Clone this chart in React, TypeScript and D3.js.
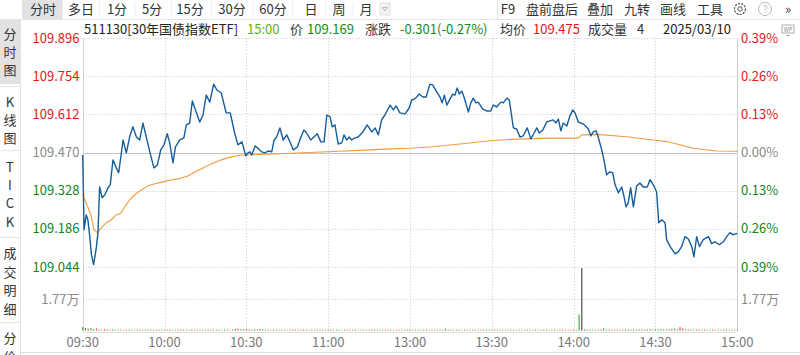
import React from "react";
import * as d3 from "d3";

const W = 800;
const H = 355;
const FONT = '"Noto Sans CJK SC", "Noto Sans", sans-serif';

// ---- data ----
const topTabs = ["分时", "多日", "1分", "5分", "15分", "30分", "60分", "日", "周", "月"];
const rightTabs = ["F9", "盘前盘后", "叠加", "九转", "画线", "工具"];
const sideGroups = [["分", "时", "图"], ["K", "线", "图"], ["T", "I", "C", "K"], ["成", "交", "明", "细"], ["分", "价"]];

const timeLabels = ["09:30", "10:00", "10:30", "11:00", "13:00", "13:30", "14:00", "14:30", "15:00"];
const timeTickMinutes = [0, 30, 60, 90, 120, 150, 180, 210, 240];
const priceTicks = [109.896, 109.754, 109.612, 109.47, 109.328, 109.186, 109.044];
const pctLabels = ["0.39%", "0.26%", "0.13%", "0.00%", "0.13%", "0.26%", "0.39%"];
const PRE_CLOSE = 109.47;
const VOLUME_TICK = 17700;
const volumeTickLabel = "1.77万";

// [minute since 09:30 (trading minutes), price]
const priceSeries: [number, number][] = [
  [0, 109.461], [0.5, 109.183], [1.3, 109.238], [1.9, 109.22], [2.6, 109.157], [3.2, 109.09], [4.0, 109.053], [5.0, 109.116], [5.6, 109.172], [6.2, 109.342],
  [7.1, 109.302], [8.1, 109.313], [9.3, 109.339], [10.1, 109.35], [11.1, 109.443], [12.3, 109.413], [13.2, 109.395], [14.8, 109.517], [16.0, 109.469], [17.2, 109.528],
  [18.4, 109.566], [19.7, 109.528], [20.9, 109.517], [22.1, 109.58], [23.3, 109.528], [24.6, 109.473], [26.1, 109.413], [27.4, 109.424], [28.6, 109.48], [29.8, 109.499],
  [31.0, 109.54], [31.9, 109.506], [33.1, 109.432], [34.0, 109.491], [35.6, 109.517], [37.1, 109.525], [38.0, 109.573], [39.2, 109.58], [40.2, 109.662], [41.6, 109.621],
  [42.9, 109.584], [44.1, 109.61], [45.3, 109.684], [46.6, 109.658], [48.0, 109.725], [49.2, 109.703], [50.8, 109.692], [52.6, 109.618], [54.1, 109.618], [55.7, 109.543],
  [56.9, 109.499], [58.4, 109.51], [59.8, 109.458], [60.6, 109.469], [61.3, 109.473], [62.0, 109.461], [63.2, 109.495], [64.4, 109.484], [65.6, 109.473], [66.8, 109.469],
  [68.0, 109.476], [69.3, 109.473], [70.2, 109.517], [71.1, 109.528], [72.3, 109.562], [73.5, 109.517], [74.8, 109.536], [76.0, 109.51], [77.2, 109.48], [78.7, 109.491],
  [79.9, 109.525], [81.1, 109.554], [82.1, 109.543], [83.6, 109.517], [84.8, 109.528], [86.0, 109.54], [87.3, 109.51], [88.5, 109.51], [89.5, 109.61], [90.7, 109.603],
  [91.5, 109.566], [92.5, 109.573], [93.1, 109.536], [93.7, 109.502], [95.0, 109.506], [95.8, 109.536], [96.8, 109.517], [97.7, 109.528], [98.6, 109.517], [99.8, 109.525],
  [101.0, 109.528], [102.7, 109.547], [104.3, 109.573], [106.0, 109.547], [107.2, 109.562], [108.4, 109.536], [109.6, 109.592], [110.8, 109.61], [112.7, 109.647], [113.9, 109.629],
  [114.9, 109.644], [116.3, 109.618], [118.2, 109.614], [119.7, 109.636], [120.6, 109.666], [121.8, 109.67], [123.4, 109.688], [124.7, 109.677], [125.9, 109.677], [127.3, 109.725],
  [128.3, 109.722], [129.8, 109.696], [131.0, 109.677], [131.8, 109.655], [132.6, 109.684], [133.5, 109.647], [134.7, 109.67], [135.7, 109.688], [136.5, 109.684], [137.3, 109.711],
  [138.1, 109.688], [139.0, 109.699], [139.8, 109.677], [141.4, 109.621], [142.3, 109.655], [143.2, 109.673], [144.2, 109.655], [145.0, 109.658], [146.7, 109.632], [148.1, 109.625],
  [149.6, 109.625], [150.5, 109.647], [151.8, 109.64], [153.0, 109.655], [153.6, 109.658], [154.2, 109.655], [155.5, 109.673], [156.4, 109.666], [157.9, 109.562], [159.1, 109.558],
  [160.3, 109.528], [161.5, 109.532], [163.0, 109.562], [164.3, 109.521], [165.5, 109.543], [166.5, 109.562], [167.4, 109.543], [168.7, 109.554], [170.1, 109.584], [171.3, 109.588],
  [172.5, 109.592], [173.5, 109.58], [174.4, 109.595], [175.3, 109.551], [176.2, 109.58], [177.5, 109.569], [178.6, 109.606], [179.7, 109.629], [180.5, 109.618], [181.7, 109.584],
  [183.5, 109.577], [185.4, 109.558], [186.3, 109.532], [187.2, 109.547], [188.2, 109.551], [189.0, 109.528], [190.3, 109.48], [191.1, 109.443], [192.1, 109.387], [193.1, 109.398],
  [194.3, 109.395], [195.2, 109.35], [196.4, 109.32], [197.6, 109.342], [198.5, 109.305], [199.2, 109.268], [200.0, 109.283], [200.9, 109.339], [201.9, 109.268], [203.1, 109.346],
  [204.3, 109.357], [205.5, 109.342], [207.0, 109.342], [208.0, 109.369], [209.2, 109.35], [210.4, 109.324], [211.2, 109.209], [212.3, 109.22], [213.5, 109.209], [214.1, 109.146],
  [215.4, 109.12], [217.2, 109.093], [218.4, 109.101], [219.6, 109.12], [220.8, 109.157], [222.0, 109.149], [223.3, 109.12], [224.1, 109.082], [225.1, 109.157], [226.1, 109.12],
  [227.5, 109.146], [229.4, 109.157], [230.6, 109.131], [231.8, 109.138], [233.4, 109.127], [234.9, 109.138], [236.1, 109.157], [237.3, 109.172], [238.3, 109.164], [240, 109.169],
];

const avgSeries: [number, number][] = [
  [0, 109.313], [1.9, 109.268], [3.2, 109.231], [4.1, 109.183], [5.4, 109.172], [6.8, 109.19], [8.7, 109.209], [10.5, 109.22], [12.3, 109.238], [14.2, 109.246],
  [15.4, 109.268], [17.2, 109.294], [19.1, 109.313], [21.5, 109.331], [23.9, 109.346], [26.4, 109.354], [29.4, 109.361], [32.5, 109.369], [34.9, 109.372], [38.6, 109.383],
  [41.1, 109.398], [44.1, 109.413], [47.1, 109.428], [50.8, 109.443], [54.5, 109.454], [58.1, 109.461], [60.6, 109.461], [69.8, 109.465], [91.8, 109.474], [105.3, 109.48],
  [112.7, 109.484], [120, 109.486], [128.4, 109.492], [140.9, 109.505], [150.4, 109.515], [159.2, 109.52], [171.3, 109.524], [181.6, 109.524], [183.0, 109.536], [188.5, 109.538],
  [199.4, 109.529], [209.2, 109.517], [214.1, 109.511], [219.0, 109.499], [223.9, 109.486], [232.4, 109.476], [240, 109.475],
];

// per-minute volume (lots), minutes 0..240
const volumes = [
  1900, 1500, 1100, 1400, 800, 1200, 600, 500, 700, 600,
  500, 700, 400, 500, 600, 400, 500, 650, 500, 400,
  600, 500, 450, 500, 650, 500, 400, 550, 600, 500,
  450, 500, 600, 500, 400, 550, 600, 500, 450, 500,
  600, 450, 500, 550, 400, 500, 600, 500, 450, 550,
  500, 450, 600, 500, 400, 700, 900, 1000, 800, 700,
  900, 600, 500, 700, 600, 900, 800, 500, 600, 450,
  500, 600, 450, 500, 550, 400, 500, 600, 500, 450,
  500, 600, 450, 500, 550, 400, 500, 600, 500, 450,
  550, 500, 450, 600, 500, 400, 550, 500, 450, 500,
  600, 450, 500, 550, 400, 500, 600, 500, 450, 550,
  500, 450, 600, 500, 400, 550, 500, 450, 500, 600,
  600, 500, 450, 550, 500, 400, 600, 500, 450, 500,
  550, 500, 450, 1000, 600, 500, 400, 550, 500, 450,
  500, 600, 450, 500, 550, 400, 500, 600, 500, 450,
  500, 600, 450, 500, 550, 400, 500, 600, 500, 450,
  550, 500, 450, 600, 500, 400, 550, 500, 450, 500,
  600, 450, 500, 550, 400, 500, 600, 500, 450, 550,
  600, 450, 9100, 62000, 700, 500, 600, 500, 450, 550,
  600, 1200, 500, 600, 550, 500, 450, 600, 500, 700,
  650, 500, 600, 550, 700, 600, 500, 650, 700, 600,
  650, 700, 800, 600, 700, 650, 900, 1100, 700, 1900,
  1200, 700, 600, 650, 500, 600, 550, 500, 600, 450,
  500, 600, 450, 500, 550, 500, 600, 500, 450, 500,
  500,
];
// u = up (red), d = down (green), k = large neutral
const volumeDirs =
  "ddudduddud" + "udduduudud" + "duudduudud" + "ududduudud" + "duududduud" +
  "udduuduudu" + "duuduuddud" + "uduudduudu" + "ududduudud" + "duududduud" +
  "udduduudud" + "duudduudud" + "ududduudud" + "duddduudud" + "udduduudud" +
  "duudduudud" + "ududduudud" + "duddduudud" + "uddkduddud" + "udduduudud" +
  "duddduudud" + "uddddduduu" + "ududduudud" + "duudduudud" + "d";

export default function App() {
  const x = d3.scaleLinear().domain([0, 240]).range([82.7, 737.3]);
  const y = d3.scaleLinear().domain([109.044, 109.896]).range([267, 38.2]);
  const yv = d3.scaleLinear().domain([0, 35400]).range([330.5, 268]).clamp(true);

  const line = d3
    .line<[number, number]>()
    .x((d) => x(d[0]))
    .y((d) => y(d[1]));

  const pctColor = (i: number) => (i < 3 ? "#e01818" : i === 3 ? "#8a8a8a" : "#11861e");
  const dirColor = (c: string) => (c === "u" ? "#e8282b" : c === "d" ? "#14a325" : "#2a2a2a");

  const leftX = x(0);
  const rightX = x(240);
  const plotTop = y(109.896);
  const volBase = yv(0);

  const tabX = [43, 81, 117, 152, 190, 232, 273, 311, 339, 366];
  const rTabX = [508, 552, 600, 637, 673, 710];
  const sideY = [[34, 52, 70], [102, 120, 138], [167, 185, 203, 222], [253, 272, 290, 309], [338, 356]];
  const sideSep = [86, 150, 237, 322];

  return (
    <svg
      width={W}
      height={H}
      viewBox={`0 0 ${W} ${H}`}
      style={{ position: "absolute", left: 0, top: 0, background: "#fff" }}
      fontFamily={FONT}
    >
      <rect x={0} y={0} width={W} height={H} fill="#fff" />

      {/* top toolbar */}
      <line x1={0} x2={W} y1={19.5} y2={19.5} stroke="#e6e6e6" />
      <rect x={22} y={0} width={41} height={19} fill="#e2e2e2" />
      {topTabs.map((t, i) => (
        <text key={t} x={tabX[i]} y={14} fontSize={13} fill="#333" textAnchor="middle">
          {t}
        </text>
      ))}
      {tabX.slice(1).map((tx, i) => (
        <line key={i} x1={(tabX[i] + tx) / 2 + 0.5} x2={(tabX[i] + tx) / 2 + 0.5} y1={2} y2={17} stroke="#eeeeee" />
      ))}
      <rect x={380} y={3} width={10} height={12} fill="#f2f2f2" stroke="#e2e2e2" />
      <path d="M382.5,7.5 L387.5,7.5 L385,11 Z" fill="none" stroke="#aaa" strokeWidth={0.8} />
      <line x1={497.5} x2={497.5} y1={0} y2={19} stroke="#e6e6e6" />
      {rightTabs.map((t, i) => (
        <text key={t} x={rTabX[i]} y={14} fontSize={13} fill="#333" textAnchor="middle">
          {t}
        </text>
      ))}
      {/* gear */}
      <circle cx={740} cy={9} r={5.5} fill="none" stroke="#555" strokeWidth={1.2} strokeDasharray="2.2 1.1" />
      <circle cx={740} cy={9} r={2.2} fill="none" stroke="#555" strokeWidth={1} />
      {/* help */}
      <circle cx={765} cy={9} r={6.5} fill="none" stroke="#bbb" strokeWidth={1} />
      <text x={765} y={13} fontSize={10} fill="#bbb" textAnchor="middle">?</text>
      <text x={788} y={14} fontSize={13} fill="#444" textAnchor="middle">»</text>

      {/* info row */}
      <text y={34} fontSize={13}>
        <tspan x={84} fill="#222">511130[30年国债指数ETF]</tspan>
        <tspan x={247} fill="#5db514">15:00</tspan>
        <tspan x={290} fill="#333">价</tspan>
        <tspan x={307} fill="#118a1d">109.169</tspan>
        <tspan x={365} fill="#333">涨跌</tspan>
        <tspan x={400} fill="#118a1d">-0.301(-0.27%)</tspan>
        <tspan x={500} fill="#333">均价</tspan>
        <tspan x={533} fill="#e01818">109.475</tspan>
        <tspan x={588} fill="#333">成交量</tspan>
        <tspan x={637} fill="#333">4</tspan>
        <tspan x={663} fill="#222">2025/03/10</tspan>
      </text>
      <rect x={782} y={25} width={12} height={8} fill="none" stroke="#999" strokeWidth={0.8} />
      <text x={788} y={31.5} fontSize={5.5} fill="#888" textAnchor="middle">WP</text>
      <line x1={786} x2={790} y1={35.5} y2={35.5} stroke="#999" strokeWidth={0.8} />

      {/* sidebar */}
      <rect x={0} y={20} width={20} height={64} fill="#e2e2e2" />
      <line x1={20.5} x2={20.5} y1={20} y2={H} stroke="#e4e4e4" />
      {sideSep.map((sy) => (
        <line key={sy} x1={0} x2={20} y1={sy + 0.5} y2={sy + 0.5} stroke="#e4e4e4" />
      ))}
      {sideGroups.map((g, gi) =>
        g.map((c, ci) => (
          <text key={`${gi}-${ci}`} x={10} y={sideY[gi][ci] + 5} fontSize={13} fill="#333" textAnchor="middle">
            {c}
          </text>
        ))
      )}

      {/* grid */}
      {priceTicks.map((p, i) =>
        i === 3 ? null : (
          <line key={p} x1={leftX} x2={rightX} y1={Math.round(y(p)) + 0.5} y2={Math.round(y(p)) + 0.5} stroke="#c8c8c8" strokeDasharray="1 2" />
        )
      )}
      <line x1={leftX} x2={rightX} y1={Math.round(yv(VOLUME_TICK)) + 0.5} y2={Math.round(yv(VOLUME_TICK)) + 0.5} stroke="#c8c8c8" strokeDasharray="1 2" />
      {timeTickMinutes.slice(1, -1).map((m) => (
        <line key={m} x1={Math.round(x(m)) + 0.5} x2={Math.round(x(m)) + 0.5} y1={plotTop} y2={volBase} stroke="#c8c8c8" strokeDasharray="1 2" />
      ))}
      <line x1={leftX} x2={rightX} y1={Math.round(y(PRE_CLOSE)) + 0.5} y2={Math.round(y(PRE_CLOSE)) + 0.5} stroke="#c4c4c4" />
      <line x1={Math.round(leftX) + 0.5} x2={Math.round(leftX) + 0.5} y1={plotTop} y2={volBase + 1} stroke="#cfcfcf" />
      <line x1={Math.round(rightX) + 0.5} x2={Math.round(rightX) + 0.5} y1={plotTop} y2={volBase + 1} stroke="#cfcfcf" />
      <line x1={leftX} x2={rightX} y1={Math.round(volBase) + 1.5} y2={Math.round(volBase) + 1.5} stroke="#e0e0e0" />

      {/* volume bars */}
      {volumes.map((v, i) => (
        <rect
          key={i}
          x={x(i) - 0.5}
          width={1}
          y={yv(v)}
          height={volBase - yv(v)}
          fill={dirColor(volumeDirs[i])}
        />
      ))}

      {/* lines */}
      <path d={line(avgSeries) || ""} fill="none" stroke="#f29a3f" strokeWidth={1.1} />
      <path d={line(priceSeries) || ""} fill="none" stroke="#155d9c" strokeWidth={1.4} strokeLinejoin="round" />

      {/* left axis labels */}
      {priceTicks.map((p, i) => (
        <text key={p} x={79.5} y={y(p) + 4.5} fontSize={13} textAnchor="end" fill={pctColor(i)}>
          {p.toFixed(3)}
        </text>
      ))}
      <text x={79.5} y={yv(VOLUME_TICK) + 4.5} fontSize={13} textAnchor="end" fill="#8a8a8a">
        {volumeTickLabel}
      </text>

      {/* right axis labels */}
      {pctLabels.map((t, i) => (
        <text key={i} x={741} y={y(priceTicks[i]) + 4.5} fontSize={13} fill={pctColor(i)}>
          {t}
        </text>
      ))}
      <text x={741} y={yv(VOLUME_TICK) + 4.5} fontSize={13} fill="#8a8a8a">
        {volumeTickLabel}
      </text>

      {/* time labels */}
      {timeLabels.map((t, i) => (
        <text key={t} x={x(timeTickMinutes[i])} y={347} fontSize={13} textAnchor="middle" fill="#7a7a7a">
          {t}
        </text>
      ))}
      <line x1={21} x2={W} y1={352.5} y2={352.5} stroke="#dcdcdc" />
    </svg>
  );
}
